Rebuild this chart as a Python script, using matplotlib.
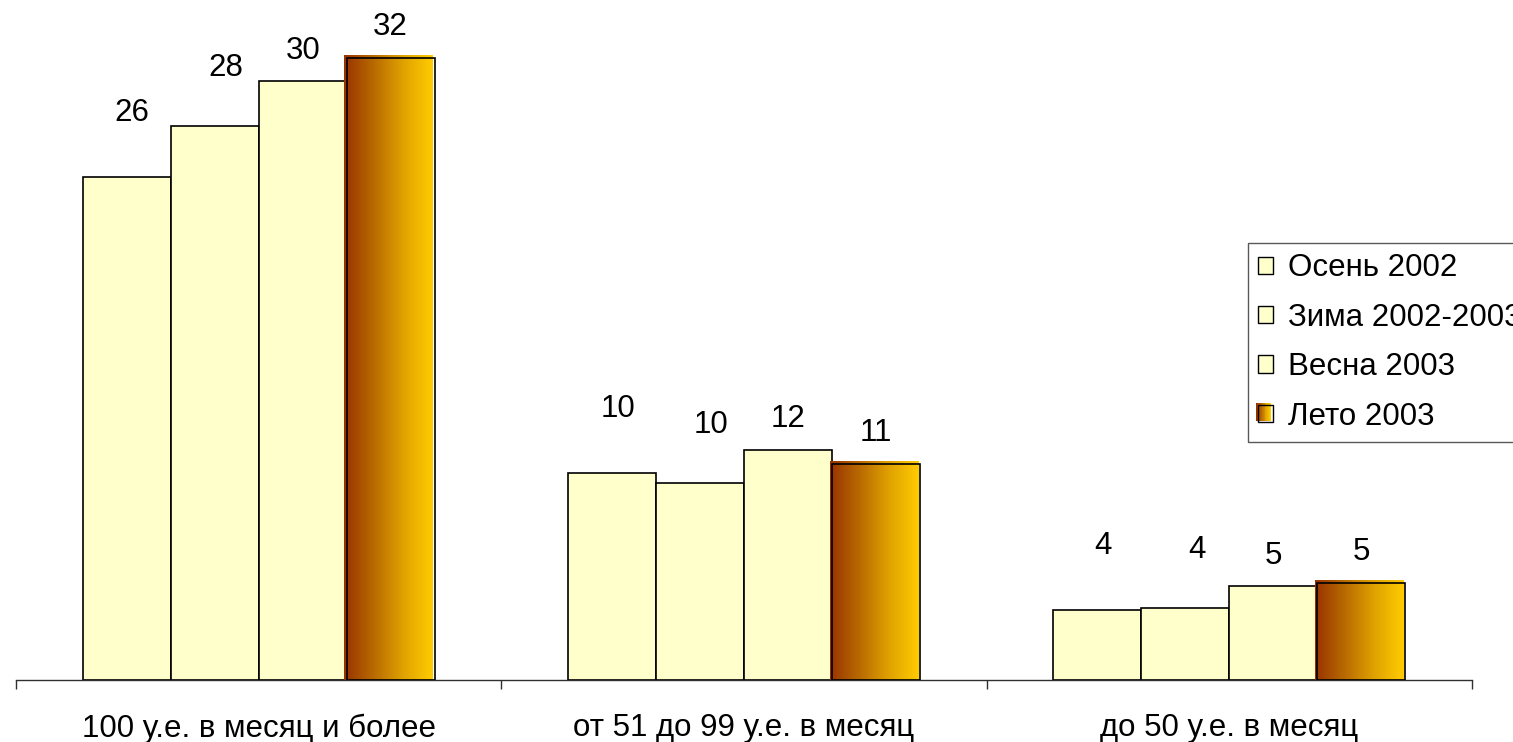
import matplotlib
matplotlib.use("Agg")
import matplotlib.pyplot as plt
import numpy as np
from matplotlib.colors import LinearSegmentedColormap
from matplotlib.legend_handler import HandlerBase
from matplotlib.patches import Patch, Rectangle

plt.rcParams["font.family"] = ["Liberation Sans", "DejaVu Sans"]

categories = ["100 у.е. в месяц и более", "от 51 до 99 у.е. в месяц", "до 50 у.е. в месяц"]
series_names = ["Осень 2002", "Зима 2002-2003", "Весна 2003", "Лето 2003"]
autumn_2002 = [25.8, 10.6, 3.6]
winter_2002_2003 = [28.4, 10.1, 3.7]
spring_2003 = [30.7, 11.8, 4.8]
summer_2003 = [31.9, 11.1, 5.0]
autumn_labels = ["26", "10", "4"]
winter_labels = ["28", "10", "4"]
spring_labels = ["30", "12", "5"]
summer_labels = ["32", "11", "5"]

series_values = [autumn_2002, winter_2002_2003, spring_2003, summer_2003]
series_labels = [autumn_labels, winter_labels, spring_labels, summer_labels]

PALE = "#FFFFCC"
FS = 22.5
grad_cmap = LinearSegmentedColormap.from_list(
    "summer", ["#993300", "#B86A00", "#E0A200", "#FFCC00"])

# label offsets per series (points), as placed in the original
label_shift = [(4, 46), (8, 42), (0, 22), (0, 22)]

W, H = 1513, 742
fig = plt.figure(figsize=(W / 100, H / 100), dpi=100)
ax = fig.add_axes([16 / W, 62 / H, 1456 / W, 680 / H])
px_per_unit = 19.5

bar_w = 88 / 485.3
x = np.arange(len(categories))

for j, (vals, labs) in enumerate(zip(series_values, series_labels)):
    xs = x + (j - 1.5) * bar_w
    if j < 3:
        ax.bar(xs, vals, width=bar_w, color=PALE, edgecolor="black",
               linewidth=1.2, zorder=2)
    else:
        grad = np.linspace(0, 1, 256).reshape(1, -1)
        dx = 2.5 / 485.3
        dy = 2.0 / px_per_unit
        for xc, v in zip(xs, vals):
            ax.imshow(grad, cmap=grad_cmap, aspect="auto", interpolation="bilinear",
                      extent=[xc - bar_w / 2 - dx, xc + bar_w / 2 - dx, 0, v + dy],
                      zorder=2)
        ax.bar(xs, vals, width=bar_w, color="none", edgecolor="black",
               linewidth=1.2, zorder=3)
    for xc, v, t in zip(xs, vals, labs):
        ax.annotate(t, (xc, v), xytext=label_shift[j], textcoords="offset points",
                    ha="center", va="center", fontsize=FS, color="black")

ax.set_xlim(-0.5, 2.5)
ax.set_ylim(0, 680 / px_per_unit)

for s in ["top", "right", "left"]:
    ax.spines[s].set_visible(False)
ax.spines["bottom"].set_color("#303030")
ax.spines["bottom"].set_linewidth(1.0)
ax.set_yticks([])
ax.set_xticks(x)
ax.set_xticklabels(categories, fontsize=FS)
ax.tick_params(axis="x", which="major", length=0, pad=24)
ax.set_xticks([-0.5, 0.5, 1.5, 2.5], minor=True)
ax.tick_params(axis="x", which="minor", length=6.5, width=1.0, color="#303030",
               direction="out")


class GradientHandler(HandlerBase):
    def create_artists(self, legend, orig_handle, xdescent, ydescent,
                       width, height, fontsize, trans):
        n = 16
        arts = []
        for k in range(n):
            arts.append(Rectangle((-xdescent - 1 + k * width / n, -ydescent + 1),
                                  width / n + 0.2, height,
                                  facecolor=grad_cmap(k / (n - 1)),
                                  edgecolor="none", transform=trans))
        arts.append(Rectangle((-xdescent, -ydescent), width, height,
                              facecolor="none", edgecolor="black",
                              linewidth=1.0, transform=trans))
        return arts


handles = [Patch(facecolor=PALE, edgecolor="black", linewidth=1.0) for _ in range(3)]
grad_handle = Patch(facecolor="#CC8800", edgecolor="black")
handles.append(grad_handle)

leg = fig.legend(handles, series_names, loc="upper left",
                 bbox_to_anchor=(1247.5 / W, 1 - 243.5 / H),
                 bbox_transform=fig.transFigure,
                 fontsize=FS, frameon=True, fancybox=False, shadow=False,
                 borderaxespad=0, borderpad=0.32, labelspacing=0.62,
                 handlelength=0.48, handleheight=0.48, handletextpad=0.48,
                 handler_map={grad_handle: GradientHandler()})
leg.get_frame().set_edgecolor("#303030")
leg.get_frame().set_linewidth(1.0)

fig.savefig("out.png", dpi=100)
